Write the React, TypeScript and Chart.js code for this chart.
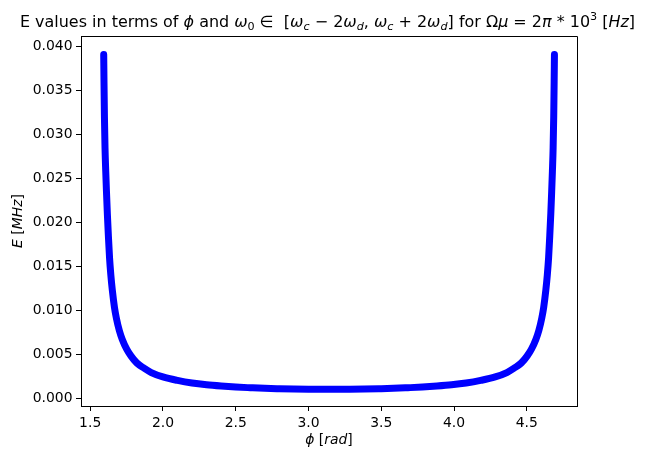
import React, { useEffect, useRef } from "react";
import { Chart, registerables } from "chart.js";

Chart.register(...registerables);

// phi [rad] values
const phiValues: number[] = [
  1.593, 1.595, 1.598, 1.602, 1.607, 1.612, 1.618, 1.625, 1.633, 1.642,
  1.652, 1.667, 1.68, 1.7, 1.72, 1.75, 1.78, 1.82, 1.87, 1.92,
  2.0, 2.1, 2.2, 2.3, 2.4, 2.5, 2.6, 2.7, 2.8, 2.9,
  3.0, 3.142,
  3.283, 3.383, 3.483, 3.583, 3.683, 3.783, 3.883, 3.983, 4.083, 4.183,
  4.283, 4.363, 4.413, 4.463, 4.503, 4.533, 4.563, 4.583, 4.603, 4.616,
  4.631, 4.641, 4.65, 4.658, 4.665, 4.671, 4.676, 4.681, 4.685, 4.688, 4.69,
];

// E [MHz] values
const eValues: number[] = [
  0.0391, 0.036, 0.032, 0.0285, 0.0258, 0.0235, 0.021, 0.0185, 0.016, 0.014,
  0.0123, 0.0103, 0.0091, 0.0077, 0.0067, 0.0056, 0.0048, 0.004, 0.0034, 0.0029,
  0.0024, 0.002, 0.0017, 0.0015, 0.00136, 0.00125, 0.00117, 0.0011, 0.00106, 0.00103,
  0.00101, 0.001,
  0.00101, 0.00103, 0.00106, 0.0011, 0.00117, 0.00125, 0.00136, 0.0015, 0.0017, 0.002,
  0.0024, 0.0029, 0.0034, 0.004, 0.0048, 0.0056, 0.0067, 0.0077, 0.0091, 0.0103,
  0.0123, 0.014, 0.016, 0.0185, 0.021, 0.0235, 0.0258, 0.0285, 0.032, 0.036, 0.0391,
];

const xTicks: number[] = [1.5, 2.0, 2.5, 3.0, 3.5, 4.0, 4.5];
const yTicks: number[] = [0, 0.005, 0.01, 0.015, 0.02, 0.025, 0.03, 0.035, 0.04];

type Seg = { t: string; it?: boolean; sub?: boolean; sup?: boolean };

const titleSegs: Seg[] = [
  { t: "E values in terms of " },
  { t: "ϕ", it: true },
  { t: " and " },
  { t: "ω", it: true },
  { t: "0", sub: true },
  { t: " ∈  [" },
  { t: "ω", it: true },
  { t: "c", it: true, sub: true },
  { t: " − 2" },
  { t: "ω", it: true },
  { t: "d", it: true, sub: true },
  { t: ", " },
  { t: "ω", it: true },
  { t: "c", it: true, sub: true },
  { t: " + 2" },
  { t: "ω", it: true },
  { t: "d", it: true, sub: true },
  { t: "] for Ω" },
  { t: "μ", it: true },
  { t: " = 2" },
  { t: "π", it: true },
  { t: " * 10" },
  { t: "3", sup: true },
  { t: " [" },
  { t: "Hz", it: true },
  { t: "]" },
];

const yTitleSegs: Seg[] = [{ t: "E", it: true }, { t: " [" }, { t: "MHz", it: true }, { t: "]" }];
const xTitleSegs: Seg[] = [{ t: "ϕ", it: true }, { t: " [" }, { t: "rad", it: true }, { t: "]" }];

const FONT = '"DejaVu Sans", sans-serif';

function segFont(s: Seg, size: number) {
  const sz = s.sub || s.sup ? size * 0.7 : size;
  return `${s.it ? "italic " : ""}${sz}px ${FONT}`;
}

function drawRich(ctx: CanvasRenderingContext2D, segs: Seg[], cx: number, baseY: number, size: number, fitWidth?: number) {
  let total = 0;
  const widths: number[] = [];
  for (const s of segs) {
    ctx.font = segFont(s, size);
    const w = ctx.measureText(s.t).width;
    widths.push(w);
    total += w;
  }
  if (fitWidth && total > fitWidth) {
    drawRich(ctx, segs, cx, baseY, size * (fitWidth / total));
    return;
  }
  let x = cx - total / 2;
  ctx.textAlign = "left";
  ctx.textBaseline = "alphabetic";
  ctx.fillStyle = "#000";
  segs.forEach((s, i) => {
    ctx.font = segFont(s, size);
    let y = baseY;
    if (s.sub) y += size * 0.2;
    if (s.sup) y -= size * 0.42;
    ctx.fillText(s.t, x, y);
    x += widths[i];
  });
}

const textPlugin = {
  id: "mplText",
  afterDraw(chart: any) {
    const ctx: CanvasRenderingContext2D = chart.ctx;
    const area = chart.chartArea;
    const cx = (area.left + area.right) / 2;
    ctx.save();
    drawRich(ctx, titleSegs, 327.5, 26.7, 16.67, 615);
    drawRich(ctx, xTitleSegs, cx, 444, 13.9);
    ctx.translate(22, (area.top + area.bottom) / 2);
    ctx.rotate(-Math.PI / 2);
    drawRich(ctx, yTitleSegs, 0, 0, 13.9);
    ctx.restore();
  },
};

export default function App() {
  const ref = useRef<HTMLCanvasElement | null>(null);

  useEffect(() => {
    document.body.style.margin = "0";
    const canvas = ref.current;
    if (!canvas) return;
    const points = phiValues.map((x, i) => ({ x, y: eValues[i] }));
    const tickFont = { family: FONT, size: 13.9 };
    const chart = new Chart(canvas, {
      type: "scatter",
      data: {
        datasets: [
          {
            data: points,
            showLine: true,
            borderColor: "#0000ff",
            backgroundColor: "#0000ff",
            borderWidth: 7,
            borderCapStyle: "round",
            borderJoinStyle: "round",
            pointRadius: 0,
            cubicInterpolationMode: "monotone",
          },
        ],
      },
      options: {
        animation: false,
        responsive: false,
        devicePixelRatio: 1,
        layout: { padding: { left: 0, right: 73, top: 36, bottom: 0 } },
        plugins: {
          legend: { display: false },
          title: { display: false },
          tooltip: { enabled: false },
        },
        scales: {
          x: {
            type: "linear",
            min: 1.437,
            max: 4.845,
            afterFit: (s: any) => {
              s.height = 57;
            },
            afterBuildTicks: (s: any) => {
              s.ticks = xTicks.map((v) => ({ value: v }));
            },
            ticks: {
              color: "#000",
              font: tickFont,
              padding: 4,
              maxRotation: 0,
              autoSkip: false,
              callback: (v: any) => Number(v).toFixed(1),
            },
            grid: {
              drawOnChartArea: false,
              drawTicks: true,
              tickLength: 5,
              tickColor: "#000",
              tickWidth: 1,
            },
            border: { display: true, color: "#000", width: 1 },
          },
          y: {
            type: "linear",
            min: -0.00091,
            max: 0.04122,
            afterFit: (s: any) => {
              s.width = 81;
            },
            afterBuildTicks: (s: any) => {
              s.ticks = yTicks.map((v) => ({ value: v }));
            },
            ticks: {
              color: "#000",
              font: tickFont,
              padding: 3.5,
              autoSkip: false,
              callback: (v: any) => Number(v).toFixed(3),
            },
            grid: {
              drawOnChartArea: false,
              drawTicks: true,
              tickLength: 5,
              tickColor: "#000",
              tickWidth: 1,
            },
            border: { display: true, color: "#000", width: 1 },
          },
        },
      },
      plugins: [
        textPlugin,
        {
          id: "frame",
          afterDraw(c: any) {
            const a = c.chartArea;
            const ctx = c.ctx;
            ctx.save();
            ctx.strokeStyle = "#000";
            ctx.lineWidth = 1;
            ctx.beginPath();
            ctx.moveTo(a.left, a.top + 0.5);
            ctx.lineTo(a.right + 0.5, a.top + 0.5);
            ctx.lineTo(a.right + 0.5, a.bottom);
            ctx.stroke();
            ctx.restore();
          },
        },
      ],
    } as any);
    return () => chart.destroy();
  }, []);

  return (
    <div style={{ position: "fixed", left: 0, top: 0, width: 650, height: 463, background: "#fff" }}>
      <canvas ref={ref} width={650} height={463} style={{ width: 650, height: 463 }} />
    </div>
  );
}
